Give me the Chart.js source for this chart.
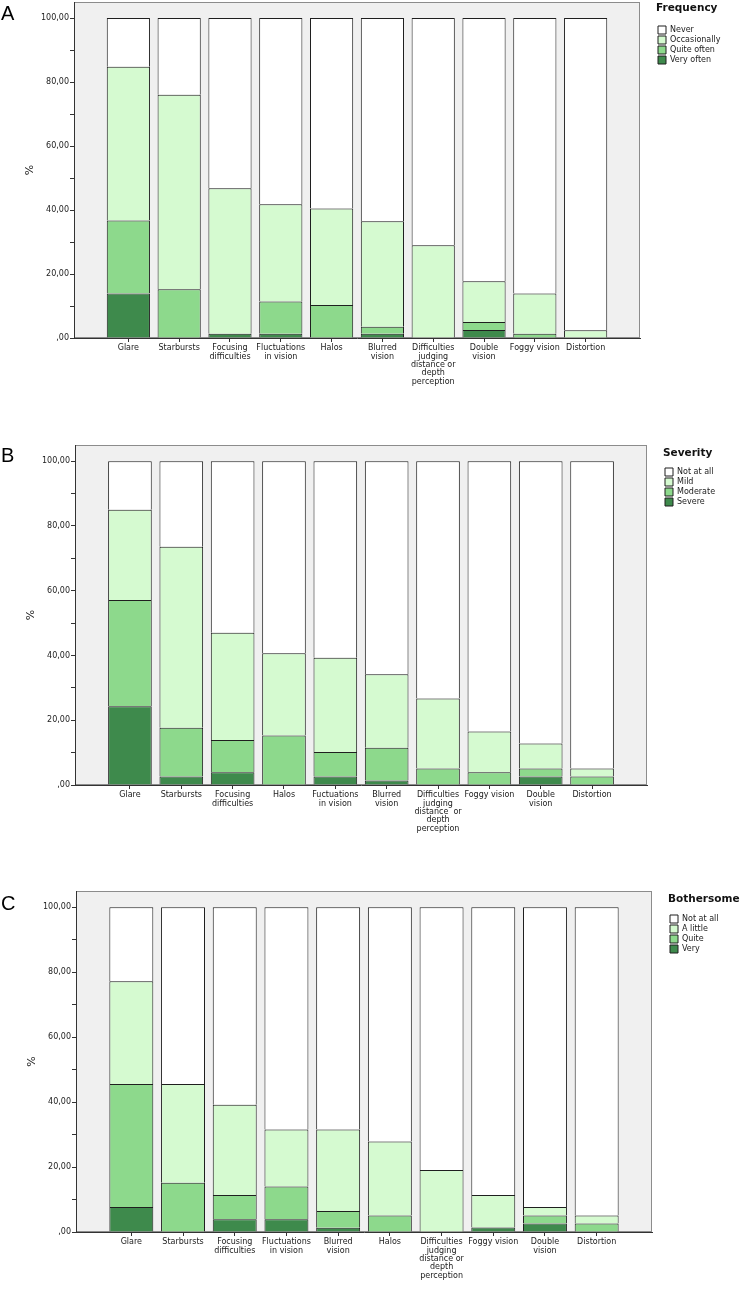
<!DOCTYPE html>
<html>
<head>
<meta charset="utf-8">
<title>Symptom frequency, severity and bothersome</title>
<script src="https://cdn.jsdelivr.net/npm/chart.js@4.4.1/dist/chart.umd.min.js"></script>
<style>
  html, body { margin: 0; padding: 0; background: #ffffff; }
  body { width: 741px; height: 1290px; position: relative; overflow: hidden; font-family: 'DejaVu Sans', sans-serif; }
  .panel { position: absolute; left: 0; width: 741px; }
  .panel canvas { display: block; }
  .letter { position: absolute; left: 1px; font-family: 'Liberation Sans', Arial, sans-serif; font-size: 20px; line-height: 20px; color: #000; }
  .legend-title { position: absolute; font-family: 'DejaVu Sans', sans-serif; font-weight: bold; font-size: 10.5px; line-height: 12px; color: #111; white-space: nowrap; }
</style>
</head>
<body>

<div class="panel" style="top:0px"><canvas id="chartA" width="741" height="395"></canvas></div>
<div class="panel" style="top:443px"><canvas id="chartB" width="741" height="400"></canvas></div>
<div class="panel" style="top:889px"><canvas id="chartC" width="741" height="400"></canvas></div>

<div class="letter" style="top:3px">A</div>
<div class="letter" style="top:445px">B</div>
<div class="letter" style="top:893px">C</div>

<div class="legend-title" id="titleA" style="top:1px">Frequency</div>
<div class="legend-title" id="titleB" style="top:446px">Severity</div>
<div class="legend-title" id="titleC" style="top:892px">Bothersome</div>

<script>
// ---------- data (% of respondents) ----------

const frequencyCategories = [
  ['Glare'], ['Starbursts'], ['Focusing', 'difficulties'], ['Fluctuations', 'in vision'],
  ['Halos'], ['Blurred', 'vision'], ['Difficulties', 'judging', 'distance or', 'depth', 'perception'],
  ['Double', 'vision'], ['Foggy vision'], ['Distortion']
]
const frequencyVeryOften   = [13.9, 0,    1.3,  1.3,  0,    1.3,  0,    2.5,  0,    0]
const frequencyQuiteOften  = [22.8, 15.2, 0,    10.1, 10.3, 2.2,  0,    2.5,  1.3,  0]
const frequencyOccasional  = [48.1, 60.8, 45.5, 30.4, 30.2, 33.0, 29.0, 12.7, 12.6, 2.4]
const frequencyNever       = [15.2, 24.0, 53.2, 58.2, 59.5, 63.5, 71.0, 82.3, 86.1, 97.6]

const severityCategories = [
  ['Glare'], ['Starbursts'], ['Focusing', 'difficulties'], ['Halos'], ['Fuctuations', 'in vision'],
  ['Blurred', 'vision'], ['Difficulties', 'judging', 'distance  or', 'depth', 'perception'],
  ['Foggy vision'], ['Double', 'vision'], ['Distortion']
]
const severitySevere   = [24.3, 2.6,  3.9,  0,    2.6,  1.4,  0,    0,    2.6,  0]
const severityModerate = [32.8, 15.1, 10.0, 15.3, 7.6,  10.1, 5.1,  3.9,  2.5,  2.6]
const severityMild     = [27.9, 55.9, 33.1, 25.4, 29.1, 22.7, 21.6, 12.6, 7.7,  2.5]
const severityNotAtAll = [15.0, 26.4, 53.0, 59.3, 60.7, 65.8, 73.3, 83.5, 87.2, 94.9]

const bothersomeCategories = [
  ['Glare'], ['Starbursts'], ['Focusing', 'difficulties'], ['Fluctuations', 'in vision'],
  ['Blurred', 'vision'], ['Halos'], ['Difficulties', 'judging', 'distance or', 'depth', 'perception'],
  ['Foggy vision'], ['Double', 'vision'], ['Distortion']
]
const bothersomeVery     = [7.7,  0,    3.9,  3.9,  1.3,  0,    0,    1.4,  2.6,  0]
const bothersomeQuite    = [37.9, 15.2, 7.5,  10.1, 5.2,  5.1,  0,    0,    2.5,  2.6]
const bothersomeALittle  = [31.6, 30.4, 27.8, 17.6, 25.1, 22.8, 19.1, 10.0, 2.6,  2.5]
const bothersomeNotAtAll = [22.8, 54.4, 60.8, 68.4, 68.4, 72.1, 80.9, 88.6, 92.3, 94.9]

const yTickValues = [0, 10, 20, 30, 40, 50, 60, 70, 80, 90, 100]
const yTickLabels = [',00', '', '20,00', '', '40,00', '', '60,00', '', '80,00', '', '100,00']

// ---------- styling ----------

const SHADES = {
  top: '#ffffff',
  light: '#d5fad0',
  mid: '#8dd98c',
  dark: '#3e8a4c'
}

const FONT = "'DejaVu Sans', sans-serif"
const LEGEND_FONT = 8
const LEGEND_BOX = 8
const LEGEND_PAD = 2
const LEGEND_GAP = 16

Chart.defaults.font.family = FONT
Chart.defaults.color = '#222222'

const plotBackground = {
  id: 'plotBackground',
  beforeDraw(chart) {
    const { ctx, chartArea } = chart
    const { left, top, right, bottom } = chartArea
    ctx.save()
    ctx.fillStyle = '#f0f0f0'
    ctx.fillRect(left, top, right - left, bottom - top)
    ctx.strokeStyle = '#8c8c8c'
    ctx.lineWidth = 1
    ctx.strokeRect(left + 0.5, top + 0.5, right - left - 1, bottom - top - 1)
    ctx.restore()
  }
}

// width the legend box will claim on the right, so the plot edge lands where it should
function legendRoom(labels) {
  const ctx = document.createElement('canvas').getContext('2d')
  ctx.font = LEGEND_FONT + 'px ' + FONT
  const widest = Math.max(...labels.map(t => ctx.measureText(t).width))
  return LEGEND_PAD + LEGEND_BOX + LEGEND_FONT / 2 + widest + 10
}

function stackSeries(label, values, color) {
  return {
    label,
    data: values.map((v, i) => ({ x: i, y: v })),
    backgroundColor: color,
    borderColor: '#1f1f1f',
    borderWidth: 1,
    barPercentage: 0.85,
    categoryPercentage: 1
  }
}

function buildPanel(canvasId, titleId, { categories, series, plot }) {
  const datasets = series.map(s => stackSeries(s.label, s.values, s.color))
  const room = legendRoom(series.map(s => s.label))

  const padding = {
    top: plot.top,
    left: plot.left - 54,
    right: 741 - plot.right - LEGEND_GAP - room,
    bottom: plot.bottom
  }

  const title = document.getElementById(titleId)
  title.style.left = (plot.right + LEGEND_GAP) + 'px'

  return new Chart(document.getElementById(canvasId), {
    type: 'bar',
    data: { datasets },
    options: {
      responsive: false,
      animation: false,
      devicePixelRatio: 1,
      layout: { padding },
      plugins: {
        tooltip: { enabled: false },
        legend: {
          position: 'right',
          align: 'start',
          reverse: true,
          title: {
            // the visible heading is the html title above; this only reserves its room
            display: true,
            text: '',
            font: { size: 12, lineHeight: 1 },
            padding: { top: 0, bottom: plot.legendDrop - 12 }
          },
          labels: {
            boxWidth: LEGEND_BOX,
            boxHeight: LEGEND_BOX,
            padding: LEGEND_PAD,
            color: '#1a1a1a',
            font: { size: LEGEND_FONT }
          }
        }
      },
      scales: {
        x: {
          type: 'linear',
          stacked: true,
          min: -1.07,
          max: 10.07,
          offset: false,
          afterBuildTicks: scale => {
            scale.ticks = categories.map((_, i) => ({ value: i }))
          },
          afterFit: scale => {
            scale.height = 50
          },
          ticks: {
            autoSkip: false,
            maxRotation: 0,
            minRotation: 0,
            padding: 2,
            color: '#1a1a1a',
            font: { size: 8, lineHeight: 1.05 },
            callback: (value, index) => categories[index]
          },
          grid: {
            display: true,
            offset: false,
            drawOnChartArea: false,
            drawTicks: true,
            tickLength: 4,
            tickColor: '#333333'
          },
          border: { display: true, color: '#333333', width: 1 }
        },
        y: {
          type: 'linear',
          stacked: true,
          min: 0,
          max: 105,
          afterBuildTicks: scale => {
            scale.ticks = yTickValues.map(v => ({ value: v }))
          },
          afterFit: scale => {
            scale.width = 54
            scale.paddingTop = 0
            scale.paddingBottom = 0
          },
          ticks: {
            padding: 1,
            color: '#222222',
            font: { size: 8 },
            callback: (value, index) => yTickLabels[index]
          },
          grid: {
            display: true,
            drawOnChartArea: false,
            drawTicks: true,
            tickLength: 4,
            tickColor: '#333333'
          },
          border: { display: true, color: '#333333', width: 1 },
          title: {
            display: true,
            text: '%',
            color: '#222222',
            font: { size: 11 },
            padding: { top: 4, bottom: 3 }
          }
        },
        gap: {
          type: 'linear',
          position: 'right',
          display: true,
          grid: { display: false },
          border: { display: false },
          ticks: { display: false },
          afterFit: scale => {
            scale.width = LEGEND_GAP
          }
        }
      }
    },
    plugins: [plotBackground]
  })
}

buildPanel('chartA', 'titleA', {
  categories: frequencyCategories,
  plot: { top: 2, left: 74, right: 640, bottom: 7, legendDrop: 22 },
  series: [
    { label: 'Very often', values: frequencyVeryOften, color: SHADES.dark },
    { label: 'Quite often', values: frequencyQuiteOften, color: SHADES.mid },
    { label: 'Occasionally', values: frequencyOccasional, color: SHADES.light },
    { label: 'Never', values: frequencyNever, color: SHADES.top }
  ]
})

buildPanel('chartB', 'titleB', {
  categories: severityCategories,
  plot: { top: 2, left: 75, right: 647, bottom: 8, legendDrop: 21 },
  series: [
    { label: 'Severe', values: severitySevere, color: SHADES.dark },
    { label: 'Moderate', values: severityModerate, color: SHADES.mid },
    { label: 'Mild', values: severityMild, color: SHADES.light },
    { label: 'Not at all', values: severityNotAtAll, color: SHADES.top }
  ]
})

buildPanel('chartC', 'titleC', {
  categories: bothersomeCategories,
  plot: { top: 2, left: 76, right: 652, bottom: 7, legendDrop: 22 },
  series: [
    { label: 'Very', values: bothersomeVery, color: SHADES.dark },
    { label: 'Quite', values: bothersomeQuite, color: SHADES.mid },
    { label: 'A little', values: bothersomeALittle, color: SHADES.light },
    { label: 'Not at all', values: bothersomeNotAtAll, color: SHADES.top }
  ]
})
</script>
</body>
</html>
